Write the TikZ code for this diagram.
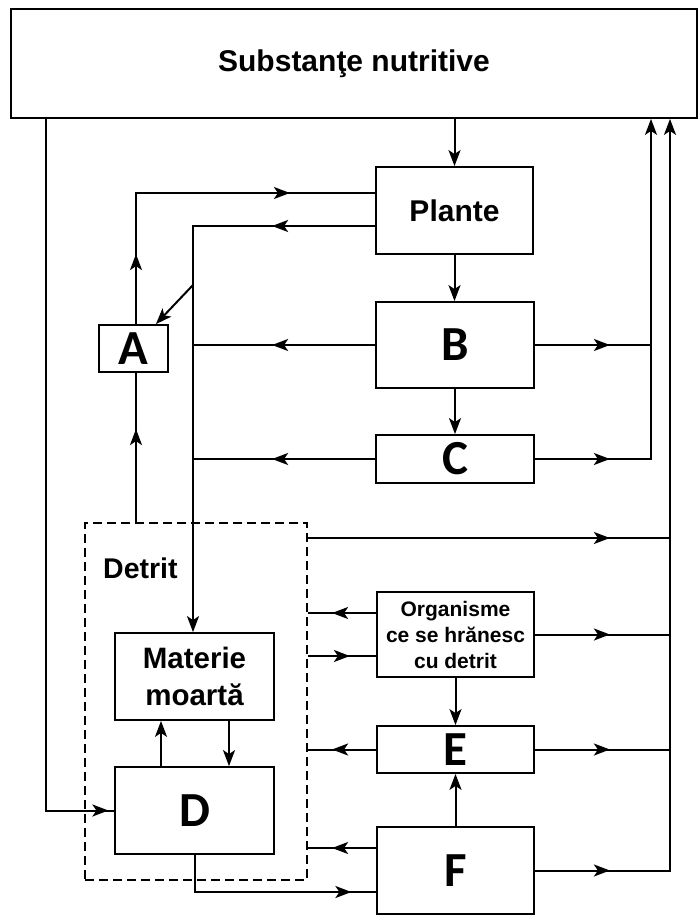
\documentclass[tikz,border=0pt]{standalone}
\usepackage{fontspec}
\setmainfont{Liberation Sans}
\newfontfamily\letterfont{Carlito}
\usetikzlibrary{arrows.meta,decorations.markings,calc}
\begin{document}
\begin{tikzpicture}[x=1pt,y=-1pt,
  conn/.style={line width=2pt},
  box/.style={draw, line width=1.8pt, inner sep=0pt, font=\bfseries\fontsize{30}{37}\selectfont, align=center},
  letterbox/.style={draw, line width=1.8pt, inner sep=0pt, font=\letterfont\bfseries\fontsize{49}{49}\selectfont},
  tip/.style={conn, -{Stealth[length=16pt,width=12pt,inset=4pt]}},
  ma/.style={conn, postaction={decorate,decoration={markings,mark=at position #1 with {\arrow{Stealth[length=16pt,width=12pt,inset=4pt]}}}}},
]
\useasboundingbox (0,0) rectangle (698,923);

% boxes
\node[box, minimum width=686pt, minimum height=109pt] (top) at (354,63.5) {Substanţe nutritive};
\node[box, minimum width=157pt, minimum height=87pt] (plante) at (454.5,210.5) {Plante};
\node[letterbox, minimum width=158pt, minimum height=86pt] (B) at (455,345) {B};
\node[letterbox, minimum width=158pt, minimum height=48pt] (C) at (455,459) {C};
\node[letterbox, minimum width=69pt, minimum height=47pt] (A) at (133.5,348.5) {A};
\node[draw, dash pattern=on 9pt off 5pt, line width=1.8pt, minimum width=222pt, minimum height=357pt, inner sep=0pt] (det) at (196,701.5) {};
\node[font=\bfseries\fontsize{28.5}{34}\selectfont, anchor=base west, inner sep=0pt] (detlbl) at (103,578) {Detrit};
\node[box, font=\bfseries\fontsize{29.5}{37}\selectfont, minimum width=159pt, minimum height=87pt] (mat) at (194.5,676.5) {Materie\\moartă};
\node[letterbox, minimum width=159pt, minimum height=87pt] (D) at (194.5,810.5) {D};
\node[box, font=\bfseries\fontsize{21}{26}\selectfont, minimum width=157pt, minimum height=85pt] (org) at (455.5,634.5) {Organisme\\ce se hrănesc\\cu detrit};
\node[letterbox, minimum width=157pt, minimum height=47pt] (E) at (455.5,749.5) {E};
\node[letterbox, minimum width=157pt, minimum height=87pt] (F) at (455.5,870.5) {F};

% helper coordinates
\coordinate (aP) at (136,193);
\coordinate (bus) at (193,226);
\coordinate (dg) at (193,285);
\coordinate (r1) at (651,0);
\coordinate (r2) at (670,0);
\coordinate (x46) at (46,0);
\coordinate (x161) at (161,0);
\coordinate (x229) at (229,0);
\coordinate (y538) at (0,538);
\coordinate (y613) at (0,613);
\coordinate (y656) at (0,656);
\coordinate (y848) at (0,848);
\coordinate (y892) at (0,892);

% top part
\draw[tip] (top.south -| plante) -- (plante.north);
\draw[tip] (plante.south) -- (plante.south |- B.north);
\draw[tip] (B.south) -- (C.north);
\draw[ma=70pt, ma=285pt] (A.north -| aP) -- (aP) -- (aP -| plante.west);
\draw[tip, ma=103pt] (plante.west |- bus) -- (bus) -- (bus |- mat.north);
\draw[ma=103pt] (B.west) -- (B.west -| bus);
\draw[ma=103pt] (C.west) -- (C.west -| bus);
\draw[tip] (dg) -- ($(A.north east)+(-13,0)$);
\draw[ma=93pt] (det.north -| aP) -- (A.south -| aP);

% right bus
\draw[ma=75pt] (B.east) -- (B.east -| r1);
\draw[tip, ma=75pt] (C.east) -- (C.east -| r1) -- (top.south -| r1);
\draw[ma=302pt] (det.east |- y538) -- (r2 |- y538);
\draw[ma=75pt] (org.east) -- (org.east -| r2);
\draw[ma=75pt] (E.east) -- (E.east -| r2);
\draw[tip, ma=75pt] (F.east) -- (F.east -| r2) -- (top.south -| r2);

% organisms / E / F
\draw[ma=44pt] (org.west |- y613) -- (det.east |- y613);
\draw[ma=42pt] (det.east |- y656) -- (org.west |- y656);
\draw[tip] (org.south) -- (E.north);
\draw[ma=44pt] (E.west) -- (E.west -| det.east);
\draw[tip] (F.north) -- (E.south);
\draw[ma=44pt] (F.west |- y848) -- (det.east |- y848);

% detritus
\draw[tip] (D.north -| x161) -- (mat.south -| x161);
\draw[tip] (mat.south -| x229) -- (D.north -| x229);
\draw[ma=754pt] (top.south -| x46) -- (x46 |- D.west) -- (D.west);
\draw[ma=194pt] (D.south) -- (D.south |- y892) -- (F.west |- y892);
\end{tikzpicture}
\end{document}
